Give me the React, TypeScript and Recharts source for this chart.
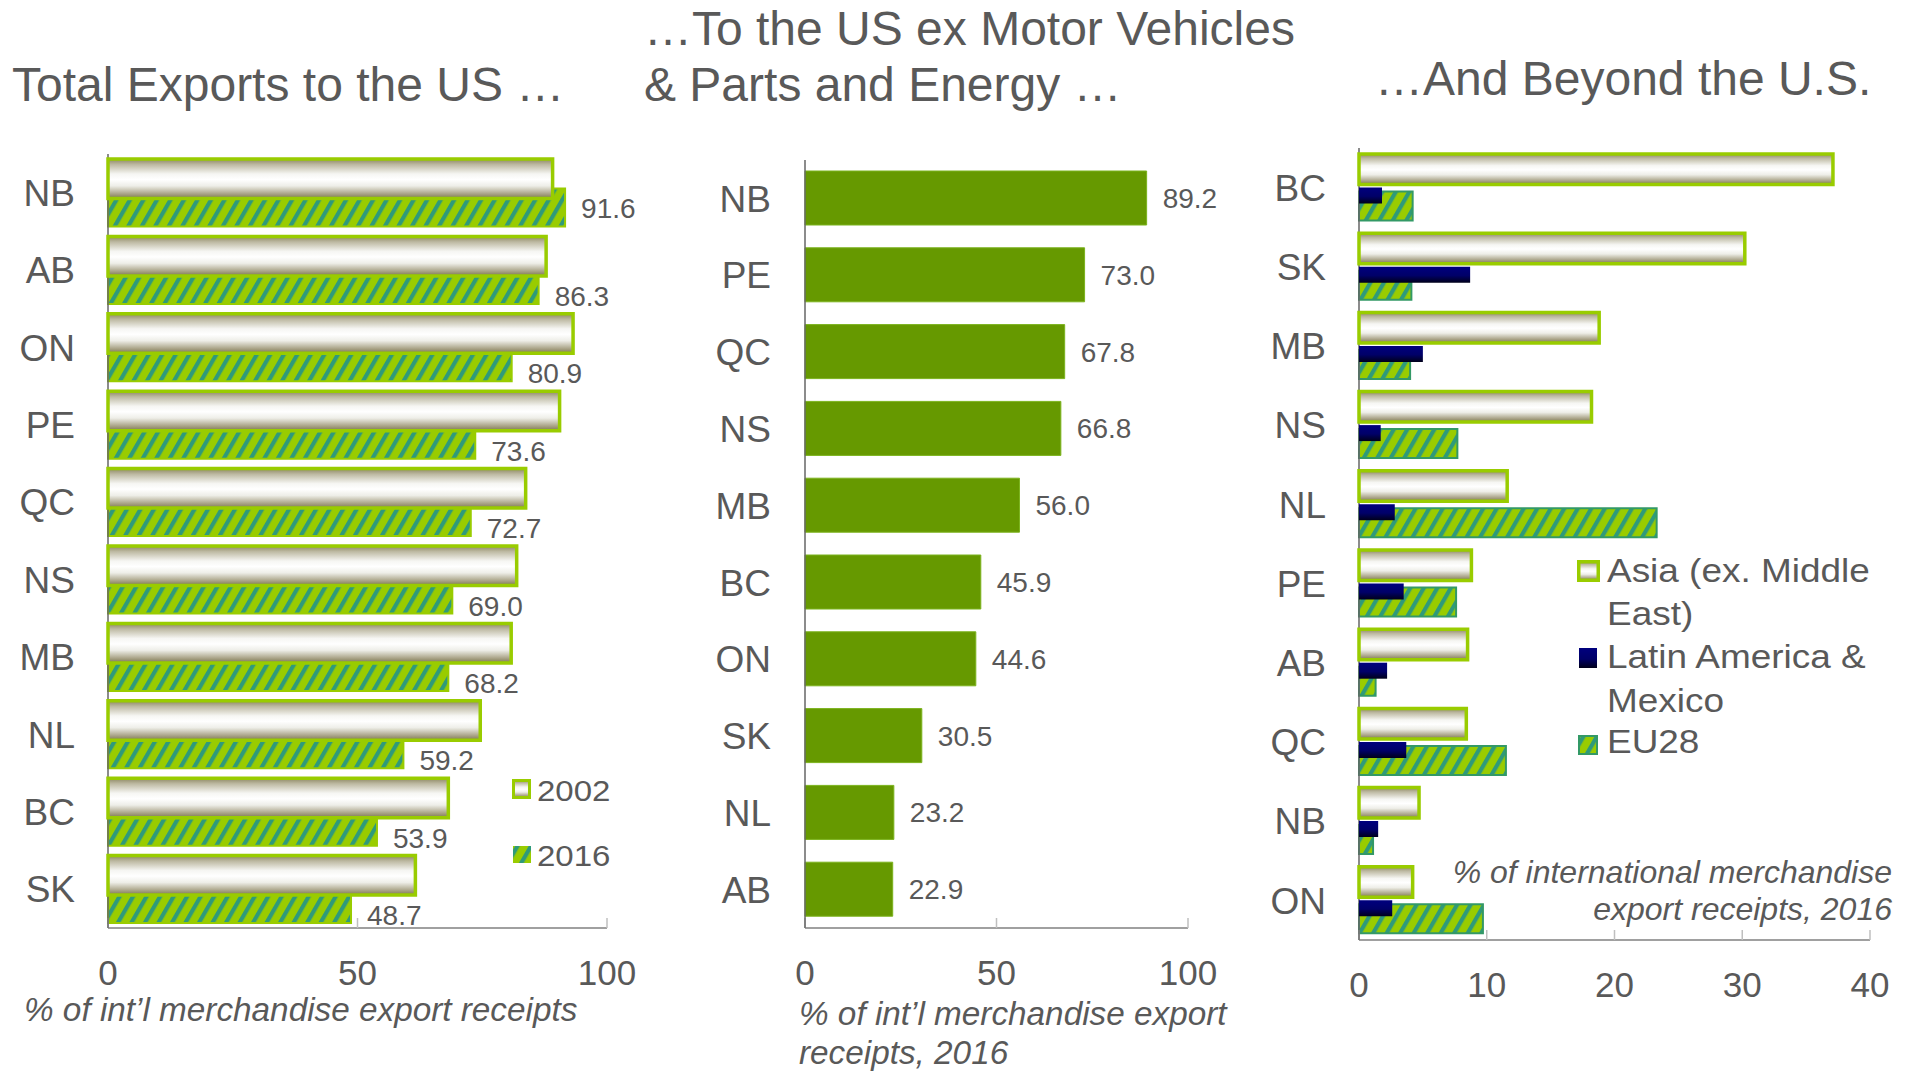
import React from "react";
import { BarChart, Bar, XAxis, YAxis, LabelList, Legend } from "recharts";

const FONT = "'Liberation Sans', Arial, Helvetica, sans-serif";
const INK = "#595959";
const LIME = "#99CC00";
const TEAL = "#339966";

// panel 1: total exports to the US
const totalProvinces = ["NB", "AB", "ON", "PE", "QC", "NS", "MB", "NL", "BC", "SK"];
const total2002 = [89.1, 87.8, 93.2, 90.5, 83.7, 81.9, 80.8, 74.6, 68.2, 61.6];
const total2016 = [91.6, 86.3, 80.9, 73.6, 72.7, 69.0, 68.2, 59.2, 53.9, 48.7];

// panel 2: US ex motor vehicles & parts and energy
const exProvinces = ["NB", "PE", "QC", "NS", "MB", "BC", "ON", "SK", "NL", "AB"];
const ex2016 = [89.2, 73.0, 67.8, 66.8, 56.0, 45.9, 44.6, 30.5, 23.2, 22.9];

// panel 3: beyond the US
const beyondProvinces = ["BC", "SK", "MB", "NS", "NL", "PE", "AB", "QC", "NB", "ON"];
const asia = [37.1, 30.2, 18.8, 18.2, 11.6, 8.8, 8.5, 8.4, 4.7, 4.2];
const latam = [1.8, 8.7, 5.0, 1.7, 2.8, 3.5, 2.2, 3.7, 1.5, 2.6];
const eu28 = [4.2, 4.1, 4.0, 7.7, 23.3, 7.6, 1.3, 11.5, 1.1, 9.7];

const tick100 = [0, 50, 100];
const tick40 = [0, 10, 20, 30, 40];

const totalData = totalProvinces.map((province, i) => ({
  province,
  y2002: total2002[i],
  y2016: total2016[i],
}));
const exData = exProvinces.map((province, i) => ({ province, y2016: ex2016[i] }));
const beyondData = beyondProvinces.map((province, i) => ({
  province,
  asia: asia[i],
  latam: latam[i],
  eu: eu28[i],
}));

const spacer = (): number => 0;

type BarSpec = {
  key: string;
  dataKey: any;
  size: number;
  layer: number;
  fill: string;
  stroke?: string;
  strokeWidth?: number;
  label?: (p: any) => React.ReactElement;
};

type PanelSpec = {
  data: any[];
  bars: BarSpec[];
  gap: number;
  left: number;
  top: number;
  width: number;
  height: number;
  margin: { top: number; right: number; bottom: number; left: number };
  yWidth: number;
  yGap: number;
  domain: [number, number];
  ticks: number[];
  legend?: () => React.ReactElement;
  legendPos?: { left: number; top: number; width: number };
};

// value label to the right of a bar; pushed a little lower when the
// 2002 bar above it reaches past the label
function valueLabel(nudge: (v: number) => number) {
  return (p: any) => {
    const v = Number(p.value);
    const x = Number(p.x) + Number(p.width) + 16;
    const y = Number(p.y) + Number(p.height) / 2 + nudge(v);
    return (
      <text x={x} y={y} dy="0.36em" fill={INK} fontSize={28} fontFamily={FONT}>
        {v.toFixed(1)}
      </text>
    );
  };
}

const totalLabel = valueLabel((v) => {
  const i = total2016.indexOf(v);
  return i >= 0 && total2002[i] > v ? 11 : 0;
});
const exLabel = valueLabel(() => 0);

function Panel({ spec }: { spec: PanelSpec }) {
  return (
    <>
      {[0, 1].map((layer) => {
        const base = layer === 0;
        return (
          <div key={layer} style={{ position: "absolute", left: spec.left, top: spec.top }}>
            <BarChart
              width={spec.width}
              height={spec.height}
              data={spec.data}
              layout="vertical"
              margin={spec.margin}
              barGap={spec.gap}
              barCategoryGap={0}
            >
              <XAxis
                type="number"
                domain={spec.domain}
                ticks={spec.ticks}
                interval={0}
                height={60}
                tickSize={-10}
                tickMargin={42}
                tick={base ? { fill: INK, fontSize: 35, fontFamily: FONT } : false}
                tickLine={base ? { stroke: "#bfbfbf", strokeWidth: 1.5 } : false}
                axisLine={base ? { stroke: "#808080", strokeWidth: 1.5 } : false}
              />
              <YAxis
                type="category"
                dataKey="province"
                width={spec.yWidth}
                interval={0}
                tickSize={0}
                tickMargin={spec.yGap}
                tick={base ? { fill: INK, fontSize: 37, fontFamily: FONT } : false}
                tickLine={false}
                axisLine={base ? { stroke: "#666666", strokeWidth: 1.5 } : false}
              />
              {spec.bars.map((b) => {
                const show = b.layer === layer;
                return (
                  <Bar
                    key={b.key}
                    dataKey={b.dataKey}
                    name={b.key}
                    barSize={b.size}
                    fill={show ? b.fill : "none"}
                    stroke={show && b.stroke ? b.stroke : "none"}
                    strokeWidth={b.strokeWidth ?? 0}
                    legendType="none"
                    isAnimationActive={false}
                  >
                    {b.label && !base ? <LabelList dataKey={b.dataKey} content={b.label} /> : null}
                  </Bar>
                );
              })}
              {!base && spec.legend && spec.legendPos ? (
                <Legend
                  layout="vertical"
                  align="center"
                  verticalAlign="middle"
                  content={spec.legend}
                  wrapperStyle={{
                    left: spec.legendPos.left,
                    top: spec.legendPos.top,
                    width: spec.legendPos.width,
                  }}
                />
              ) : null}
            </BarChart>
          </div>
        );
      })}
    </>
  );
}

const legendText = (x: number, y: number, s: string, key: string, size: number, sx: number) => (
  <text
    key={key}
    transform={`translate(${x},${y}) scale(${sx},1)`}
    fill={INK}
    fontSize={size}
    fontFamily={FONT}
  >
    {s}
  </text>
);

const yearsLegend = () => (
  <svg width={130} height={110}>
    <rect x={8.5} y={10.5} width={16} height={17} fill="url(#silver)" stroke={LIME} strokeWidth={3} />
    {legendText(32, 31, "2002", "y1", 30, 1.1)}
    <rect x={8} y={76} width={18} height={17} fill="url(#hatch)" />
    {legendText(32, 96, "2016", "y2", 30, 1.1)}
  </svg>
);

const regionsLegend = () => (
  <svg width={340} height={225}>
    <rect x={8.75} y={16.75} width={19.5} height={18.5} fill="url(#silver)" stroke={LIME} strokeWidth={3.5} />
    {legendText(37, 37, "Asia (ex. Middle", "a1", 33, 1.12)}
    {legendText(37, 80, "East)", "a2", 33, 1.12)}
    <rect x={9} y={103} width={18} height={20} fill="url(#navy)" />
    {legendText(37, 123, "Latin America &", "l1", 33, 1.12)}
    {legendText(37, 167, "Mexico", "l2", 33, 1.12)}
    <rect x={9} y={191} width={18} height={18} fill="url(#hatch)" stroke={TEAL} strokeWidth={2} />
    {legendText(37, 208, "EU28", "e1", 33, 1.12)}
  </svg>
);

const totalSpec: PanelSpec = {
  data: totalData,
  bars: [
    { key: "2002", dataKey: "y2002", size: 39.5, layer: 1, fill: "url(#silver)", stroke: LIME, strokeWidth: 3.5 },
    { key: "2016", dataKey: "y2016", size: 38, layer: 0, fill: "url(#hatch)", stroke: LIME, strokeWidth: 2, label: totalLabel },
  ],
  gap: -10,
  left: 0,
  top: 140,
  width: 640,
  height: 880,
  margin: { top: 14, right: 33, bottom: 32, left: 0 },
  yWidth: 108,
  yGap: 33,
  domain: [0, 100],
  ticks: tick100,
  legend: yearsLegend,
  legendPos: { left: 505, top: 630, width: 130 },
};

const exSpec: PanelSpec = {
  data: exData,
  bars: [
    { key: "2016", dataKey: "y2016", size: 54, layer: 0, fill: "#669900", stroke: "#7bb31c", strokeWidth: 1, label: exLabel },
  ],
  gap: 0,
  left: 640,
  top: 140,
  width: 600,
  height: 880,
  margin: { top: 20, right: 52, bottom: 32, left: 0 },
  yWidth: 165,
  yGap: 34,
  domain: [0, 100],
  ticks: tick100,
};

const beyondSpec: PanelSpec = {
  data: beyondData,
  bars: [
    { key: "Asia (ex. Middle East)", dataKey: "asia", size: 30.5, layer: 1, fill: "url(#silver)", stroke: LIME, strokeWidth: 3.5 },
    { key: "spacer", dataKey: spacer, size: 27, layer: -1, fill: "none" },
    { key: "Latin America & Mexico", dataKey: "latam", size: 16, layer: 1, fill: "url(#navy)" },
    { key: "EU28", dataKey: "eu", size: 29, layer: 0, fill: "url(#hatch)", stroke: TEAL, strokeWidth: 2 },
  ],
  gap: -12,
  left: 1240,
  top: 130,
  width: 673,
  height: 900,
  margin: { top: 18, right: 43, bottom: 30, left: 0 },
  yWidth: 119,
  yGap: 33,
  domain: [0, 40],
  ticks: tick40,
  legend: regionsLegend,
  legendPos: { left: 330, top: 415, width: 340 },
};

export default function App() {
  return (
    <div
      style={{
        position: "absolute",
        left: 0,
        top: 0,
        width: 1913,
        height: 1071,
        background: "#ffffff",
        overflow: "hidden",
        fontFamily: FONT,
      }}
    >
      <svg width={0} height={0} style={{ position: "absolute" }}>
        <defs>
          <linearGradient id="silver" x1="0" y1="0" x2="0" y2="1">
            <stop offset="0" stopColor="#8c8660" />
            <stop offset="0.14" stopColor="#bdb9a2" />
            <stop offset="0.38" stopColor="#f6f6f3" />
            <stop offset="0.52" stopColor="#ffffff" />
            <stop offset="0.68" stopColor="#eeeee8" />
            <stop offset="0.88" stopColor="#aaa488" />
            <stop offset="1" stopColor="#7d774f" />
          </linearGradient>
          <linearGradient id="navy" x1="0" y1="0" x2="0" y2="1">
            <stop offset="0" stopColor="#00007e" />
            <stop offset="0.55" stopColor="#000068" />
            <stop offset="1" stopColor="#00001a" />
          </linearGradient>
          <pattern id="hatch" patternUnits="userSpaceOnUse" width={11.7} height={11.7} patternTransform="rotate(30)">
            <rect width={11.7} height={11.7} fill={LIME} />
            <rect width={4.2} height={11.7} fill="#2f9a7a" />
          </pattern>
        </defs>
      </svg>

      <svg width={1913} height={1071} style={{ position: "absolute", left: 0, top: 0 }}>
        <g fill={INK} fontFamily={FONT}>
          <text x={12} y={101} fontSize={48}>Total Exports to the US …</text>
          <text x={644} y={45} fontSize={48}>…To the US ex Motor Vehicles</text>
          <text x={644} y={101} fontSize={48}>&amp; Parts and Energy …</text>
          <text x={1375} y={95} fontSize={48}>…And Beyond the U.S.</text>
          <text x={24} y={1021} fontSize={33.3} fontStyle="italic">% of int’l merchandise export receipts</text>
          <text x={799} y={1025} fontSize={33.3} fontStyle="italic">% of int’l merchandise export</text>
          <text x={799} y={1064} fontSize={33.3} fontStyle="italic">receipts, 2016</text>
          <text x={1892} y={883} fontSize={32} fontStyle="italic" textAnchor="end">% of international merchandise</text>
          <text x={1892} y={920} fontSize={32} fontStyle="italic" textAnchor="end">export receipts, 2016</text>
        </g>
      </svg>

      <Panel spec={totalSpec} />
      <Panel spec={exSpec} />
      <Panel spec={beyondSpec} />
    </div>
  );
}
